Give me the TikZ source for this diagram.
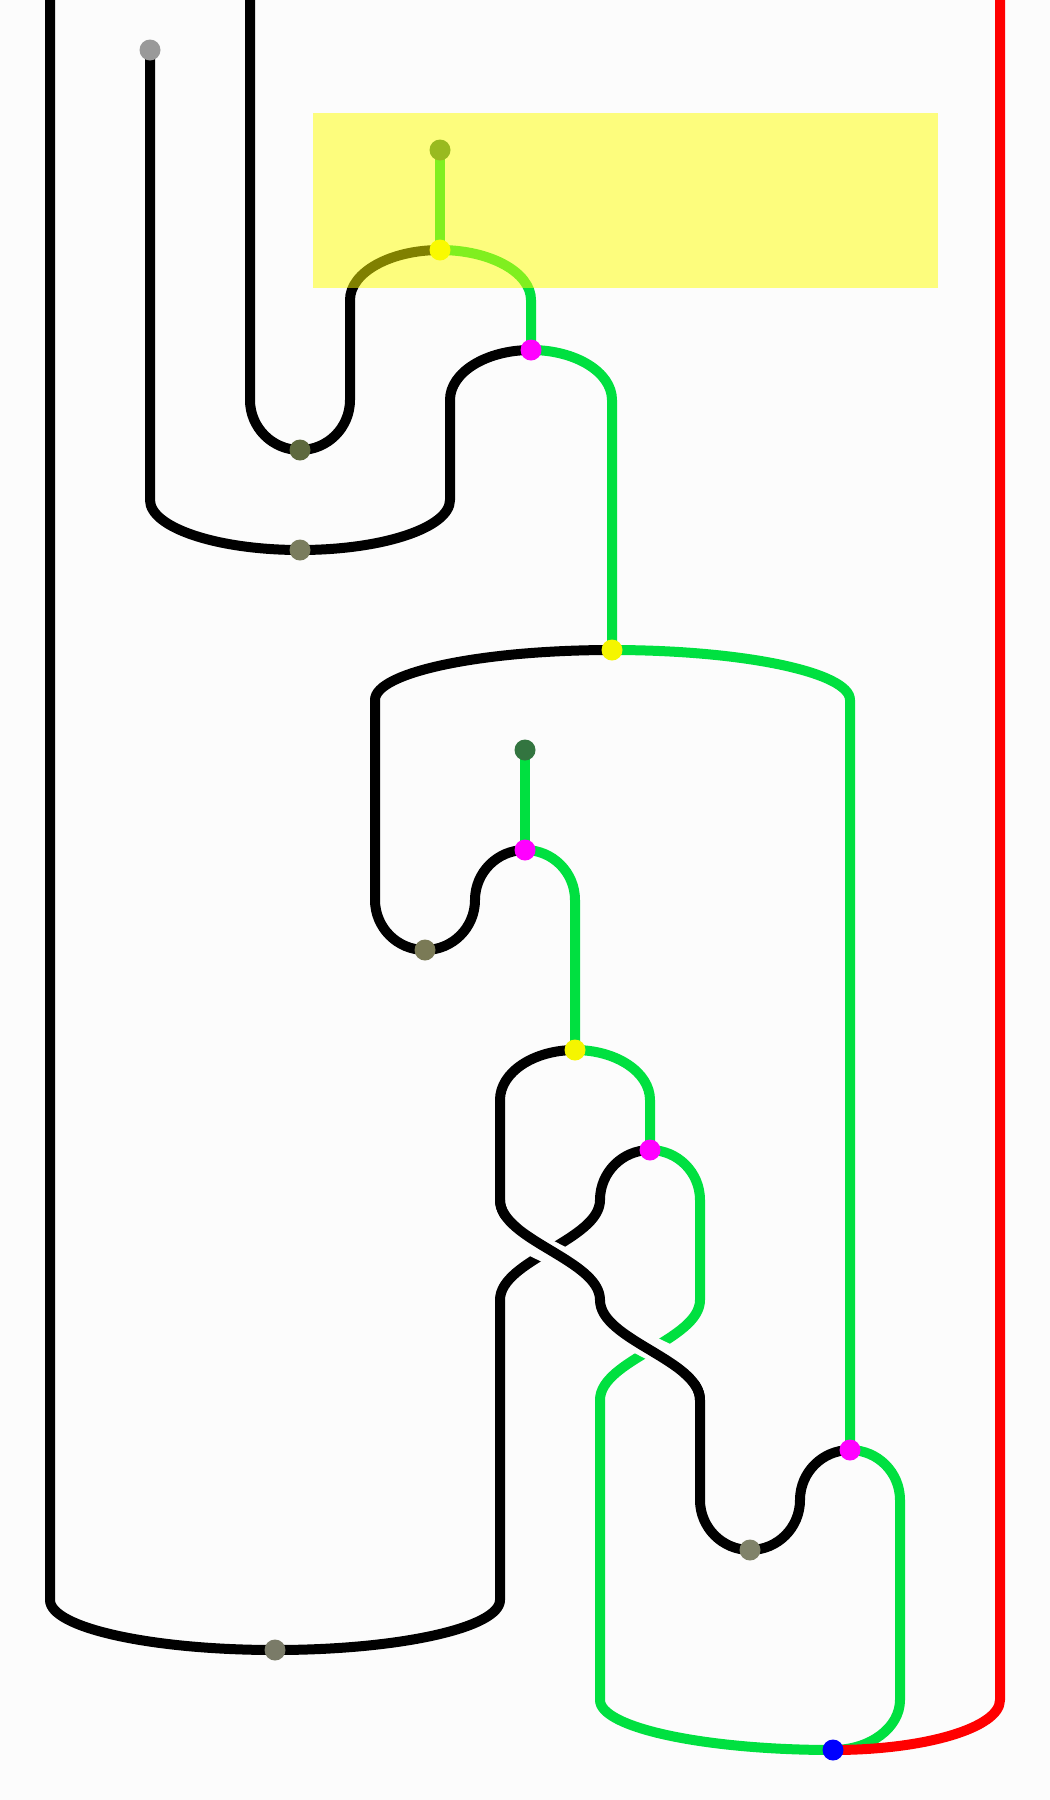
\documentclass[tikz,border=0pt]{standalone}
\usetikzlibrary{calc}
\definecolor{bg}{HTML}{FCFCFC}
\definecolor{wgreen}{HTML}{00E040}
\definecolor{wred}{HTML}{FF0000}
\definecolor{cyel}{HTML}{F5F500}
\definecolor{cmag}{HTML}{FF00FF}
\definecolor{cblue}{HTML}{0000FF}
\definecolor{cgray}{HTML}{999999}
\definecolor{cdkgreen}{HTML}{337540}
\definecolor{colA}{HTML}{5E6A3E}
\definecolor{colB}{HTML}{7A7D5E}
\definecolor{colC}{HTML}{7A7A56}
\definecolor{colD}{HTML}{80836A}
\definecolor{colE}{HTML}{7A7B68}
\definecolor{boxyel}{HTML}{FFFF00}
\tikzset{
  wire/.style={line width=10pt, line cap=butt, line join=round},
  blk/.style={wire, draw=black},
  grn/.style={wire, draw=wgreen},
  rd/.style={wire, draw=wred},
  over/.style={preaction={draw=bg, line width=24pt, line cap=butt, shorten >=20pt, shorten <=20pt}},
  dot/.style={circle, inner sep=0pt, minimum size=21pt, draw=none},
  hv/.style={to path={.. controls ($(\tikztostart)!0.5523!(\tikztotarget |- \tikztostart)$) and ($(\tikztotarget)!0.5523!(\tikztotarget |- \tikztostart)$) .. (\tikztotarget)}},
  vh/.style={to path={.. controls ($(\tikztostart)!0.5523!(\tikztostart |- \tikztotarget)$) and ($(\tikztotarget)!0.5523!(\tikztostart |- \tikztotarget)$) .. (\tikztotarget)}},
}
\begin{document}
\begin{tikzpicture}[x=1pt,y=-1pt]
\useasboundingbox (0,0) rectangle (1050,1800);
\fill[bg] (0,0) rectangle (1050,1800);
% vertices
\coordinate (g1) at (150,50);
\coordinate (d1) at (440,150);
\coordinate (y1) at (440,250);
\coordinate (m1) at (531,350);
\coordinate (o1) at (300,450);
\coordinate (o2) at (300,550);
\coordinate (y2) at (612,650);
\coordinate (d2) at (525,750);
\coordinate (m2) at (525,850);
\coordinate (o3) at (425,950);
\coordinate (y3) at (575,1050);
\coordinate (m3) at (650,1150);
\coordinate (m4) at (850,1450);
\coordinate (o4) at (750,1550);
\coordinate (o5) at (275,1650);
\coordinate (b)  at (833,1750);
\coordinate (topA) at (50,0);
\coordinate (topB) at (250,0);
\coordinate (topR) at (1000,0);
% wires
\draw[blk] (y1) to[hv] (350,300) -- (350,400) to[vh] (o1) to[hv] (250,400) -- (topB);
\draw[grn] (d1) -- (y1);
\draw[grn] (y1) to[hv] (531,300) -- (m1);
\draw[blk] (m1) to[hv] (450,400) -- (450,500) to[vh] (o2) to[hv] (150,500) -- (g1);
\draw[grn] (m1) to[hv] (612,400) -- (y2);
\draw[blk] (y2) to[hv] (375,700) -- (375,900) to[vh] (o3) to[hv] (475,900) to[vh] (m2);
\draw[grn] (y2) to[hv] (850,700) -- (m4);
\draw[grn] (d2) -- (m2);
\draw[grn] (m2) to[hv] (575,900) -- (y3);
\draw[grn] (y3) to[hv] (650,1100) -- (m3);
% under strands
\draw[blk] (m3) to[hv] (600,1200) .. controls +(0,40) and +(0,-40) .. (500,1300) -- (500,1600) to[vh] (o5) to[hv] (50,1600) -- (topA);
\draw[grn] (m3) to[hv] (700,1200) -- (700,1300) .. controls +(0,40) and +(0,-40) .. (600,1400) -- (600,1700) to[vh] (b);
\draw[grn] (m4) to[hv] (900,1500) -- (900,1700) to[vh] (b);
% over strand
\draw[blk] (y3) to[hv] (500,1100) -- (500,1200) .. controls +(0,40) and +(0,-40) .. (600,1300) .. controls +(0,40) and +(0,-40) .. (700,1400) -- (700,1500) to[vh] (o4) to[hv] (800,1500) to[vh] (m4);
\draw[blk, over] (500,1200) .. controls +(0,40) and +(0,-40) .. (600,1300) .. controls +(0,40) and +(0,-40) .. (700,1400);
\draw[rd] (b) to[hv] (1000,1700) -- (topR);
% dots
\node[dot, fill=cgray] (g1d) at (g1) {};
\node[dot, fill=cdkgreen] (d1d) at (d1) {};
\node[dot, fill=cyel] (y1d) at (y1) {};
\node[dot, fill=cmag] (m1d) at (m1) {};
\node[dot, fill=colA] (o1d) at (o1) {};
\node[dot, fill=colB] (o2d) at (o2) {};
\node[dot, fill=cyel] (y2d) at (y2) {};
\node[dot, fill=cdkgreen] (d2d) at (d2) {};
\node[dot, fill=cmag] (m2d) at (m2) {};
\node[dot, fill=colC] (o3d) at (o3) {};
\node[dot, fill=cyel] (y3d) at (y3) {};
\node[dot, fill=cmag] (m3d) at (m3) {};
\node[dot, fill=cmag] (m4d) at (m4) {};
\node[dot, fill=colD] (o4d) at (o4) {};
\node[dot, fill=colE] (o5d) at (o5) {};
\node[dot, fill=cblue] (bd) at (b) {};
% highlight box
\fill[boxyel, opacity=0.5] (312.5,112.5) rectangle (937.5,287.5);
\end{tikzpicture}
\end{document}
